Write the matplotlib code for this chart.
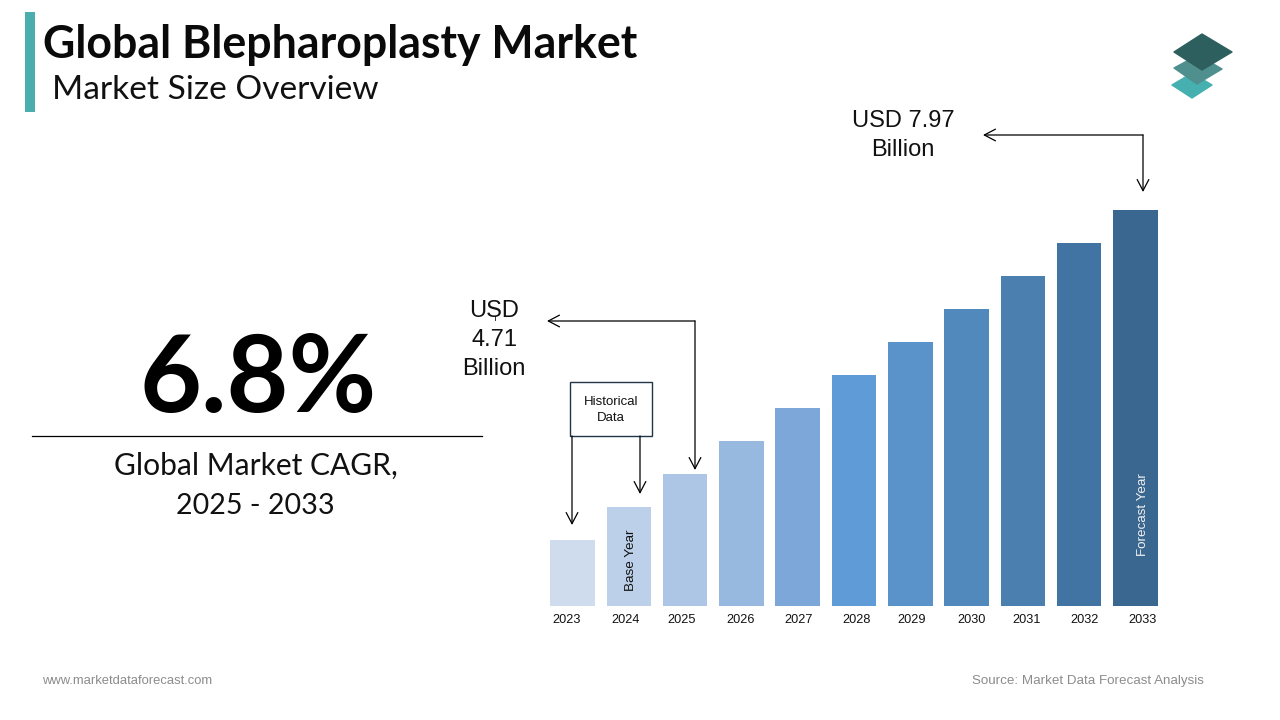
import matplotlib
matplotlib.use("Agg")
import matplotlib.pyplot as plt
from matplotlib.patches import Polygon, Rectangle

years = ["2023", "2024", "2025", "2026", "2027", "2028", "2029", "2030", "2031", "2032", "2033"]
# Bars are schematic in the source: even steps, not to the USD scale
bar_heights = [2, 3, 4, 5, 6, 7, 8, 9, 10, 11, 12]
bar_colors = ["#CFDCEE", "#BDD0E9", "#ADC6E5", "#98B9DF", "#7DA7D9", "#5F9BD6",
              "#5A93CA", "#5289BD", "#4A7FB0", "#4274A3", "#3A6790"]
label_offsets = [-0.10, -0.05, -0.07, -0.02, 0.01, 0.05, 0.03, 0.08, 0.06, 0.09, 0.13]

W, H = 1280, 720
fig = plt.figure(figsize=(12.8, 7.2), dpi=100, facecolor="white")

# Bar axes: pixel box 544..1164 horizontally, 210..606 vertically
ax = fig.add_axes([544 / W, (H - 606) / H, 620 / W, 396 / H])
step = 56.3
ax.set_xlim((544 - 572.5) / step, (1164 - 572.5) / step)
ax.set_ylim(0, 12)
ax.bar(range(len(years)), bar_heights, width=44.5 / step, color=bar_colors)
ax.set_xticks([i + d for i, d in enumerate(label_offsets)])
ax.set_xticklabels(years, family="Liberation Sans", fontsize=9.2, color="#111111")
ax.tick_params(axis="x", length=0, pad=5.8)
ax.set_yticks([])
for s in ax.spines.values():
    s.set_visible(False)
ax.patch.set_alpha(0)

# Overlay in pixel coordinates
ov = fig.add_axes([0, 0, 1, 1], zorder=5)
ov.set_xlim(0, W)
ov.set_ylim(H, 0)
ov.axis("off")

ov.add_patch(Rectangle((25, 12), 10, 100, color="#4AADAE", lw=0))
ov.text(43, 45, "Global Blepharoplasty Market", family="Lato", weight="bold",
        fontsize=32.1, va="center", ha="left", color="#0A0A0A")
ov.text(52, 90, "Market Size Overview", family="Lato", fontsize=24.1,
        va="center", ha="left", color="#111111")

# Logo
ov.add_patch(Polygon([(1172, 85), (1192, 73), (1212, 85), (1192, 98)], fc="#45B0AF", ec="#45B0AF", lw=1, joinstyle="round"))
ov.add_patch(Polygon([(1174, 68), (1198, 55), (1222, 69), (1197, 84)], fc="#4F8F8E", ec="#4F8F8E", lw=1, joinstyle="round"))
ov.add_patch(Polygon([(1174, 52), (1202, 34), (1232, 52), (1202, 70)], fc="#2C5F5D", ec="#2C5F5D", lw=1, joinstyle="round"))

# CAGR panel
ov.text(258, 381, "6.8%", family="Lato", weight="bold", fontsize=77,
        ha="center", va="center", color="black")
ov.plot([32, 482], [436, 436], color="black", lw=0.9)
ov.text(255.5, 466, "Global Market CAGR,", family="Lato", fontsize=21.6, ha="center", va="center", color="#111111")
ov.text(255.5, 506, "2025 - 2033", family="Lato", fontsize=20.6, ha="center", va="center", color="#111111")

# Callouts
for txt, x, y in [("USD", 494, 311), ("4.71", 494, 340), ("Billion", 494, 369),
                  ("USD 7.97", 903, 121), ("Billion", 903, 150)]:
    ov.text(x, y, txt, family="Liberation Sans", fontsize=17, ha="center", va="center", color="#111111")
ov.plot([494.5, 494.5], [316, 320], color="#333333", lw=0.7)

arrow = dict(arrowstyle="->,head_length=0.8,head_width=0.42", color="black", lw=0.9,
             shrinkA=0, shrinkB=0)
ov.annotate("", xy=(547, 321), xytext=(695, 321), arrowprops=arrow)
ov.annotate("", xy=(695, 470), xytext=(695, 321), arrowprops=arrow)
ov.annotate("", xy=(983, 135), xytext=(1143, 135), arrowprops=arrow)
ov.annotate("", xy=(1143, 192), xytext=(1143, 135), arrowprops=arrow)
ov.annotate("", xy=(572, 525), xytext=(572, 436), arrowprops=arrow)
ov.annotate("", xy=(640, 494), xytext=(640, 436), arrowprops=arrow)

ov.add_patch(Rectangle((570, 382), 82, 54, fc="white", ec="#1F3548", lw=1))
ov.text(611, 402, "Historical", family="Liberation Sans", fontsize=9.5, ha="center", va="center", color="#111111")
ov.text(611, 418, "Data", family="Liberation Sans", fontsize=9.5, ha="center", va="center", color="#111111")

ov.text(631, 560, "Base Year", family="Liberation Sans", fontsize=9.7, rotation=90,
        ha="center", va="center", color="#111111")
ov.text(1143, 515, "Forecast Year", family="Liberation Sans", fontsize=9.6, rotation=90,
        ha="center", va="center", color="#F2F2F2")

ov.text(42, 681, "www.marketdataforecast.com", family="Liberation Sans", fontsize=9.4,
        ha="left", va="center", color="#8C8C8C")
ov.text(1204, 681, "Source: Market Data Forecast Analysis", family="Liberation Sans", fontsize=9.6,
        ha="right", va="center", color="#8C8C8C")

fig.savefig("out.png", dpi=100)
